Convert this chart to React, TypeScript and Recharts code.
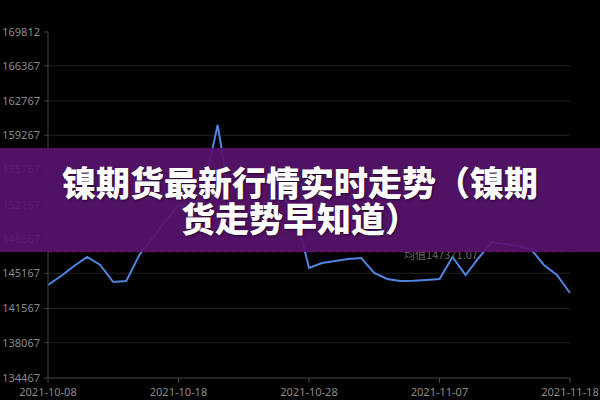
import { LineChart, Line, XAxis, YAxis, CartesianGrid, ReferenceLine } from 'recharts';

const dates = [
  '2021-10-08', '2021-10-09', '2021-10-10', '2021-10-11', '2021-10-12', '2021-10-13', '2021-10-14',
  '2021-10-15', '2021-10-16', '2021-10-17', '2021-10-18', '2021-10-19', '2021-10-20', '2021-10-21',
  '2021-10-22', '2021-10-23', '2021-10-24', '2021-10-25', '2021-10-26', '2021-10-27', '2021-10-28',
  '2021-10-29', '2021-10-30', '2021-10-31', '2021-11-01', '2021-11-02', '2021-11-03', '2021-11-04',
  '2021-11-05', '2021-11-06', '2021-11-07', '2021-11-08', '2021-11-09', '2021-11-10', '2021-11-11',
  '2021-11-12', '2021-11-14', '2021-11-15', '2021-11-16', '2021-11-17', '2021-11-18',
];

const prices = [
  143968, 144887, 145909, 146828, 146011, 144274, 144377, 147033, 148769, 150506,
  152140, 151629, 154183, 160312, 152140, 151119, 151834, 152651, 152957, 151119,
  145705, 146215, 146420, 146624, 146726, 145194, 144581, 144377, 144400, 144479,
  144581, 146828, 144990, 146726, 148360, 148156, 147952, 147645, 146011, 144990,
  143151,
];

const yTicks = [134467, 138067, 141567, 145167, 148667, 152167, 155767, 159267, 162767, 166367, 169812];
const average = 147371.07;
const title = ['镍期货最新行情实时走势（镍期', '货走势早知道）'];

const data = dates.map((date, i) => ({ date, price: prices[i] }));

const tickStyle = { fill: '#8a8a8a', fontSize: 11, fontFamily: 'Noto Sans' };

export default function App() {
  return (
    <div style={{ position: 'fixed', left: 0, top: 0, width: 600, height: 400, background: '#000', overflow: 'hidden' }}>
      <LineChart width={600} height={400} data={data} margin={{ top: 32, right: 30, bottom: 0, left: 0 }}>
        <CartesianGrid vertical={false} stroke="#222" horizontalValues={yTicks.slice(1, -1)} />
        <XAxis
          dataKey="date" interval={9} height={22} tick={tickStyle}
          stroke="#444" tickSize={5} tickMargin={5}
        />
        <YAxis
          domain={[134467, 169812]} ticks={yTicks} width={48} tick={tickStyle}
          stroke="#444" tickSize={4} tickMargin={4} interval={0}
        />
        <ReferenceLine
          y={average} stroke="#c0304a" strokeDasharray="4 4"
          label={{ value: '均值' + average, position: 'center', dx: 132, dy: 3, fill: '#666', fontSize: 11, fontFamily: 'Noto Sans CJK SC' }}
        />
        <Line
          type="linear" dataKey="price" stroke="#4f86e0" strokeWidth={2}
          dot={false} isAnimationActive={false}
        />
      </LineChart>
      <div
        style={{
          position: 'absolute', left: 0, top: 148, width: 600, height: 104,
          background: 'rgba(88, 18, 110, 0.92)', display: 'flex', flexDirection: 'column',
          justifyContent: 'center', alignItems: 'center', color: '#fff',
          fontFamily: 'Noto Sans CJK SC', fontWeight: 900, fontSize: 34, lineHeight: '36px',
          textShadow: '1px 1px 2px rgba(0,0,0,0.6)',
        }}
      >
        <div>{title[0]}</div>
        <div>{title[1]}</div>
      </div>
    </div>
  );
}
